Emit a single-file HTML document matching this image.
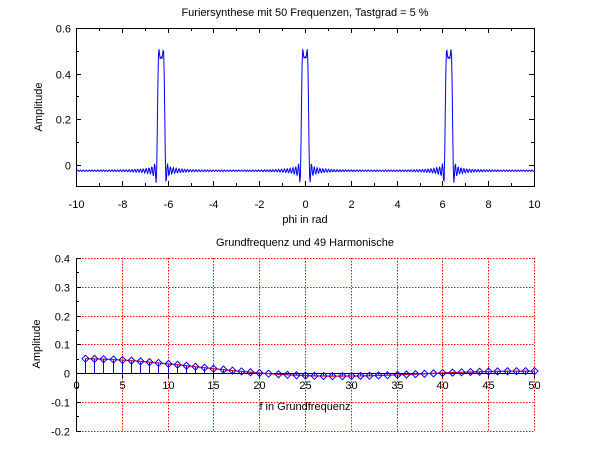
<!DOCTYPE html>
<html><head><meta charset="utf-8"><style>
html,body{margin:0;padding:0;background:#fff;}
svg{display:block;font-family:"Liberation Sans","DejaVu Sans",sans-serif;font-size:11px;}
</style></head><body>
<svg id="s" width="610" height="460" viewBox="0 0 610 460" xmlns="http://www.w3.org/2000/svg"></svg>
<script>
var s=document.getElementById('s'),h='';
function L(x1,y1,x2,y2,c,w,d){h+='<line x1="'+x1+'" y1="'+y1+'" x2="'+x2+'" y2="'+y2+'" stroke="'+c+'" stroke-width="'+(w||1)+'"'+(d?' stroke-dasharray="'+d+'"':'')+' shape-rendering="crispEdges"/>';}
function T(x,y,t,a,extra){h+='<text x="'+x+'" y="'+y+'" text-anchor="'+(a||'middle')+'" '+(extra||'')+'>'+t+'</text>';}
var X0=76,X1=534,Y0=165,ys=228.5;
function tx(v){return X0+(v+10)/20*(X1-X0);} function ty(v){return Y0-v*ys;}
var bot=186;
h+='<rect x="'+X0+'.5" y="28.5" width="'+(X1-X0)+'" height="'+(bot-28)+'" fill="none" stroke="#000"/>';
for(var v=-10;v<=10;v+=1){var x=Math.round(tx(v))+0.5;L(x,bot,x,bot-(v%2==0?5:3),'#000');L(x,28,x,28+(v%2==0?5:3),'#000');if(v%2==0)T(x,bot+22,v);}
for(var k=0;k<=6;k++){var v=k/10,y=Math.round(ty(v))+0.5;L(X0,y,X0+(k%2==0?5:3),y,'#000');L(X1,y,X1-(k%2==0?5:3),y,'#000');if(k%2==0)T(X0-5,y+4,v==0?'0':v.toFixed(1),'end');}
var d=0.05,pts=[];
for(var i=0;i<=800;i++){var p=-10+i*0.025,sum=0;for(var k=1;k<=50;k++)sum+=Math.sin(k*Math.PI*d)/(k*Math.PI)*Math.cos(k*p);pts.push(tx(p).toFixed(2)+','+ty(sum).toFixed(2));}
h+='<polyline points="'+pts.join(' ')+'" fill="none" stroke="#00f" stroke-width="1"/>';
T(305,16,'Furiersynthese mit 50 Frequenzen, Tastgrad = 5 %');
T(305,223,'phi in rad');
T(42,107,'Amplitude','middle','transform="rotate(-90 42 107)"');
var B0=373,bs=287.5,BX0=76,BX1=534;
function bx(v){return BX0+v/50*(BX1-BX0);} function by(v){return B0-v*bs;}
for(var v=5;v<=50;v+=5){var x=Math.round(bx(v))+0.5;L(x,258,x,431,'#f00',1,'1.5,1.5');}
for(var k=-2;k<=4;k++){if(k==0)continue;var y=Math.round(by(k/10))+0.5;L(76,y,534,y,'#f00',1,'1.5,1.5');}
L(76.5,258,76.5,431,'#000');
for(var k=-2;k<=4;k++){var y=Math.round(by(k/10))+0.5;L(76,y,81,y,'#000');T(70,y+4,k==0?'0':(k/10).toFixed(1),'end');}
for(var k=-3;k<=7;k+=2){var y=Math.round(by(k/20))+0.5;L(76,y,79,y,'#000');}
L(76,B0+0.5,534,B0+0.5,'#000');
for(var v=0;v<=50;v+=5){var x=Math.round(bx(v))+0.5;L(x,B0,x,B0+5,'#000');T(x,B0+16,v);}
var rp=[];
for(var k=1;k<=50;k++){var a=Math.sin(k*Math.PI*d)/(k*Math.PI),x=Math.round(bx(k))+0.5,y=by(a);L(x,B0,x,y,'#00f');rp.push(x.toFixed(2)+','+y.toFixed(2));}
h+='<polyline points="'+rp.join(' ')+'" fill="none" stroke="#f00" stroke-width="1.2"/>';
for(var k=1;k<=50;k++){var a=Math.sin(k*Math.PI*d)/(k*Math.PI),x=Math.round(bx(k))+0.5,y=by(a);h+='<polygon points="'+x+','+(y-3.5)+' '+(x+3.5)+','+y+' '+x+','+(y+3.5)+' '+(x-3.5)+','+y+'" fill="none" stroke="#00f"/>';}
T(305,246,'Grundfrequenz und 49 Harmonische');
T(305,410,'f in Grundfrequenz');
T(40,344,'Amplitude','middle','transform="rotate(-90 40 344)"');
s.innerHTML=h;
</script>
</body></html>
